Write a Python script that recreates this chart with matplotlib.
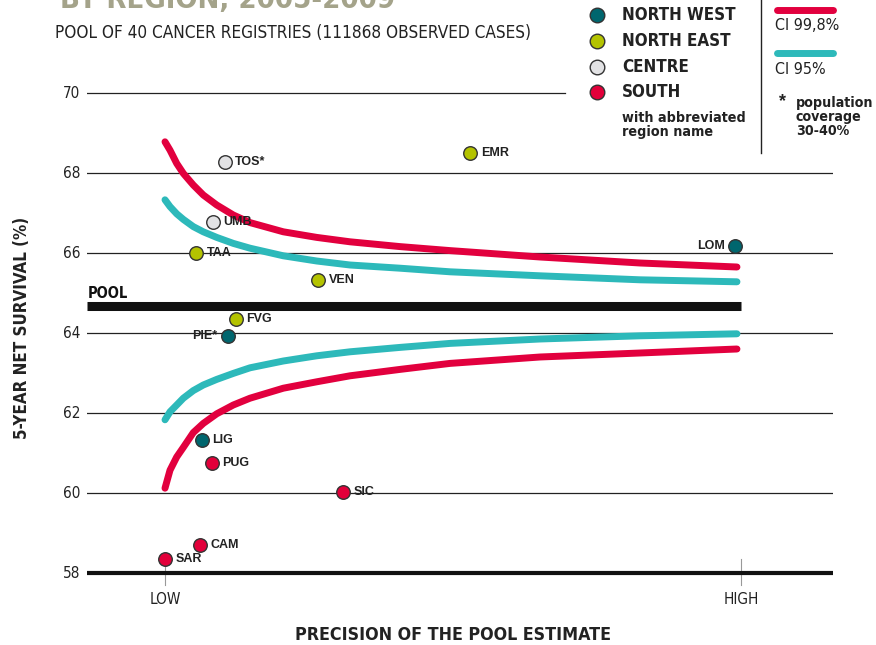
import matplotlib
matplotlib.use("Agg")
import matplotlib.pyplot as plt
from matplotlib.lines import Line2D

# ---------------- data ----------------
regions = ["TOS*", "EMR", "UMB", "TAA", "LOM", "VEN", "FVG", "PIE*", "LIG", "PUG", "SIC", "CAM", "SAR"]
precision = [0.104, 0.530, 0.083, 0.054, 0.990, 0.266, 0.123, 0.109, 0.064, 0.082, 0.309, 0.061, 0.000]
survival = [68.28, 68.50, 66.78, 66.00, 66.18, 65.33, 64.35, 63.93, 61.33, 60.75, 60.03, 58.70, 58.35]
area = ["C", "NE", "C", "NE", "NW", "NE", "NE", "NW", "NW", "S", "S", "S", "S"]
label_side = ["r", "r", "r", "r", "l", "r", "r", "l", "r", "r", "r", "r", "r"]

pool_value = 64.675

curve_x = [0.0, 0.0087, 0.0203, 0.0318, 0.0491, 0.0665, 0.0898, 0.1186, 0.1476,
           0.2054, 0.2634, 0.3212, 0.408, 0.4948, 0.651, 0.8247, 0.993]
ci998_upper = [68.78, 68.57, 68.24, 67.99, 67.70, 67.45, 67.20, 66.95, 66.76,
               66.53, 66.39, 66.28, 66.16, 66.06, 65.90, 65.75, 65.65]
ci998_lower = [60.12, 60.57, 60.90, 61.14, 61.51, 61.74, 61.98, 62.20, 62.37,
               62.62, 62.78, 62.93, 63.09, 63.24, 63.40, 63.50, 63.60]
ci95_upper = [67.33, 67.16, 66.98, 66.84, 66.66, 66.53, 66.39, 66.24, 66.12,
              65.93, 65.80, 65.70, 65.62, 65.53, 65.43, 65.33, 65.28]
ci95_lower = [61.83, 62.03, 62.20, 62.37, 62.56, 62.70, 62.84, 62.99, 63.13,
              63.30, 63.43, 63.53, 63.64, 63.74, 63.85, 63.93, 63.98]

yticks = [58, 60, 62, 64, 66, 68, 70]
xtick_labels = ["LOW", "HIGH"]
xtick_pos = [0.0, 1.0]

legend_names = ["NORTH WEST", "NORTH EAST", "CENTRE", "SOUTH"]
legend_keys = ["NW", "NE", "C", "S"]

# ---------------- style ----------------
colors = {"NW": "#00666E", "NE": "#B4C300", "C": "#E2E2E4", "S": "#E2003A"}
RED = "#E2003E"
CYAN = "#2DB9BA"
NARROW = ["DejaVu Sans"]
ARIAL = ["Liberation Sans", "DejaVu Sans"]
COND = dict(family=NARROW, fontstretch="condensed")

W, H = 876, 645
fig = plt.figure(figsize=(W / 100, H / 100), dpi=100)

x0_px, x1_px = 87, 833
low_px, high_px = 165, 741
ppu_x = high_px - low_px
xmin = (x0_px - low_px) / ppu_x
xmax = (x1_px - low_px) / ppu_x
ybot, ytop = 57.5, 70.5
py_bot = 573 + (58 - ybot) * 40
py_top = 93 - (ytop - 70) * 40
ax = fig.add_axes([x0_px / W, 1 - py_bot / H, (x1_px - x0_px) / W, (py_bot - py_top) / H])
ax.set_xlim(xmin, xmax)
ax.set_ylim(ybot, ytop)
ax.axis("off")

def fx(px):
    return (px - low_px) / ppu_x

# gridlines
for t in yticks:
    if t == 58:
        ax.plot([xmin, xmax], [t, t], color="#111111", lw=3.0, zorder=2, solid_capstyle="butt")
    elif t == 70:
        ax.plot([xmin, fx(565)], [t, t], color="#222222", lw=0.9, zorder=1)
    else:
        ax.plot([xmin, xmax], [t, t], color="#222222", lw=0.9, zorder=1)
    ax.text(xmin - 0.012, t, str(t), ha="right", va="center", fontsize=11,
            color="#222222", **COND)

# low/high ticks
for xp, lab in zip(xtick_pos, xtick_labels):
    ax.plot([xp, xp], [57.7, 58.35], color="#999999", lw=0.8, zorder=1)
    ax.text(xp, 57.35, lab, ha="center", va="center", fontsize=11,
            color="#222222", clip_on=False, **COND)

# pool line
ax.plot([xmin, 1.0], [pool_value, pool_value], color="#111111", lw=6.5, zorder=3,
        solid_capstyle="butt")
ax.text(xmin + 0.002, pool_value + 0.12, "POOL", ha="left", va="bottom", fontsize=10.5,
        fontweight="bold", color="#111111", **COND)

# CI curves
for ys, c in [(ci998_upper, RED), (ci998_lower, RED), (ci95_upper, CYAN), (ci95_lower, CYAN)]:
    ax.plot(curve_x, ys, color=c, lw=5.0, solid_capstyle="round", solid_joinstyle="round",
            zorder=4)

# points
for name, xv, yv, a, side in zip(regions, precision, survival, area, label_side):
    ax.scatter([xv], [yv], s=95, color=colors[a], edgecolor="#333333", linewidth=1.0, zorder=6)
    if side == "r":
        ax.text(xv + 0.018, yv, name, ha="left", va="center", fontsize=9,
                fontweight="bold", family=ARIAL, color="#222222", zorder=7)
    else:
        ax.text(xv - 0.018, yv, name, ha="right", va="center", fontsize=9,
                fontweight="bold", family=ARIAL, color="#222222", zorder=7)

# axis titles
fig.text(453 / W, 1 - 635 / H, "PRECISION OF THE POOL ESTIMATE", ha="center", va="center",
         fontsize=12.8, fontweight="bold", color="#222222", **COND)
fig.text(22 / W, 1 - 328 / H, "5-YEAR NET SURVIVAL (%)", ha="center", va="center",
         rotation=90, fontsize=12.2, fontweight="bold", color="#222222", **COND)

# title and subtitle
fig.text(60 / W, 1 - 8 / H, "BY REGION, 2005-2009", ha="left", va="baseline",
         fontsize=21, fontweight="bold", color="#A4A38A", **COND)
fig.text(55 / W, 1 - 33 / H, "POOL OF 40 CANCER REGISTRIES (111868 OBSERVED CASES)",
         ha="left", va="center", fontsize=12.3, color="#222222", **COND)

# legend (regions)
leg_y = [15, 41, 67, 92]
for yy, nm, k in zip(leg_y, legend_names, legend_keys):
    fig.add_artist(Line2D([597 / W], [1 - yy / H], marker="o", markersize=10.5,
                          markerfacecolor=colors[k], markeredgecolor="#333333",
                          markeredgewidth=1.0, linestyle="none"))
    fig.text(622 / W, 1 - yy / H, nm, ha="left", va="center", fontsize=12.2,
             fontweight="bold", color="#222222", **COND)
fig.text(622 / W, 1 - 125 / H, "with abbreviated\nregion name", ha="left", va="center",
         fontsize=10.3, fontweight="bold", color="#222222", linespacing=1.0, **COND)

# separator
fig.add_artist(Line2D([761 / W, 761 / W], [1, 1 - 153 / H], color="#222222", lw=1.0))

# legend (CI)
fig.add_artist(Line2D([777 / W, 833 / W], [1 - 10 / H, 1 - 10 / H], color=RED, lw=5,
                      solid_capstyle="round"))
fig.text(775 / W, 1 - 26 / H, "CI 99,8%", ha="left", va="center", fontsize=11.5,
         color="#222222", **COND)
fig.add_artist(Line2D([777 / W, 833 / W], [1 - 53 / H, 1 - 53 / H], color=CYAN, lw=5,
                      solid_capstyle="round"))
fig.text(775 / W, 1 - 70 / H, "CI 95%", ha="left", va="center", fontsize=11.5,
         color="#222222", **COND)
fig.text(779 / W, 1 - 102 / H, "*", ha="left", va="center", fontsize=13,
         fontweight="bold", family=ARIAL, color="#222222")
fig.text(796 / W, 1 - 117 / H, "population\ncoverage\n30-40%", ha="left", va="center",
         fontsize=10.2, fontweight="bold", color="#222222", linespacing=1.0, **COND)

fig.savefig("out.png", dpi=100)
